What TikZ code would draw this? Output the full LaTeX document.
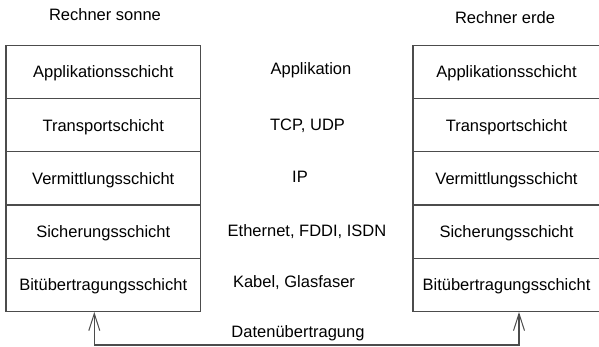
\documentclass[tikz,border=0pt]{standalone}
\usepackage{fontspec}
\setmainfont{Liberation Sans}
\usetikzlibrary{arrows.meta}
\begin{document}
\begin{tikzpicture}[x=1pt,y=-1pt,
  txt/.style={font=\fontsize{16.5}{19}\selectfont, inner sep=0pt,
              text height=11.8pt, text depth=0pt},
  layer/.style={txt, draw=black!70, line width=1.3pt,
                minimum height=53.2pt, anchor=north},
  conn/.style={draw=black!70, line width=1.3pt,
               {Straight Barb[length=17pt,width=11pt,line width=1pt]}-{Straight Barb[length=17pt,width=11pt,line width=1pt]}}
]
  \useasboundingbox (0,0) rectangle (599,346);

  % host names
  \node[txt] (hs) at (105,15) {Rechner sonne};
  \node[txt] (he) at (505,18) {Rechner erde};

  % layer stacks of both hosts
  \foreach \i/\t in {1/Applikationsschicht,2/Transportschicht,
                     3/Vermittlungsschicht,4/Sicherungsschicht,
                     5/Bitübertragungsschicht}{
    \node[layer, minimum width=194.5pt] (l\i) at (103.25,{44.7+53.2*(\i-1)}) {\t};
    \node[layer, minimum width=187pt]   (r\i) at (506.5,{44.7+53.2*(\i-1)}) {\t};
  }

  % protocols per layer
  \node[txt] (p1) at (311,69)  {Applikation};
  \node[txt] (p2) at (307.5,125) {TCP, UDP};
  \node[txt] (p3) at (300,177) {IP};
  \node[txt] (p4) at (307,231) {Ethernet, FDDI, ISDN};
  \node[txt] (p5) at (294,282) {Kabel, Glasfaser};

  % physical transmission between the hosts
  \coordinate (a) at (94.3,345);
  \coordinate (b) at (519,345);
  \draw[conn] (l5.south -| a) -- (a) -- (b) -- (r5.south -| b);
  \node[txt] (dt) at (298,332) {Datenübertragung};
\end{tikzpicture}
\end{document}
